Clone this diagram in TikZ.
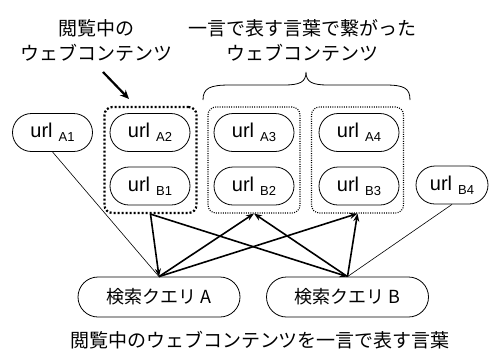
\documentclass[tikz,border=0pt]{standalone}
\usepackage{fontspec}
\setmainfont{Liberation Sans}
\newfontfamily\jp{Noto Sans CJK JP}
\usetikzlibrary{arrows.meta}
\newcommand{\urltext}[1]{{\fontsize{20}{20}\selectfont url}\hspace{6pt}\raisebox{-4pt}{\fontsize{13}{13}\selectfont #1}}
\begin{document}
\begin{tikzpicture}[x=1pt,y=-1pt,
  urlnode/.style={draw, rounded corners=19pt, minimum width=80pt, minimum height=38pt, inner sep=0pt, line width=0.8pt},
  qnode/.style={draw, rounded corners=20pt, minimum width=162pt, minimum height=40pt, inner sep=0pt, line width=0.8pt, font=\jp\fontsize{18}{18}\selectfont},
  groupbox/.style={draw, rounded corners=8pt, minimum width=92pt, minimum height=106pt, inner sep=0pt, line width=1.1pt, dash pattern=on 1pt off 1.3pt},
  selbox/.style={groupbox, line width=2.2pt, dash pattern=on 2pt off 2pt},
  title/.style={align=center, font=\jp\fontsize{19}{25}\selectfont, inner sep=0pt},
  thinline/.style={line width=0.6pt},
  thickarrow/.style={line width=1.6pt, -{Stealth[length=8pt,width=6pt]}}
]
\useasboundingbox (0,0) rectangle (490,354);

% titles
\node[title] (t1) at (96,40) {閲覧中の\\ウェブコンテンツ};
\node[title] (t2) at (302,40) {一言で表す言葉で繋がった\\ウェブコンテンツ};
\coordinate (arrS) at (103,72);
\coordinate (arrE) at (129,99);
\draw[line width=2.2pt, -{Stealth[length=9pt,width=8pt]}] (arrS) -- (arrE);

% brace
\draw[line width=0.8pt] (203,100) .. controls (203,88) and (210,85) .. (230,85) -- (284,85)
  .. controls (300,85) and (306,82) .. (306,72)
  .. controls (306,82) and (312,85) .. (328,85) -- (385,85)
  .. controls (404,85) and (410,88) .. (410,100);

% group boxes
\node[selbox] (g1) at (150.5,160) {};
\node[groupbox] (g2) at (254,160) {};
\node[groupbox] (g3) at (357.5,160) {};

% url nodes
\node[urlnode] (a1) at (52.5,132.5) {\urltext{A1}};
\node[urlnode] (a2) at (150,132.5) {\urltext{A2}};
\node[urlnode] (b1) at (150,186) {\urltext{B1}};
\node[urlnode] (a3) at (254,132.5) {\urltext{A3}};
\node[urlnode] (b2) at (254,186) {\urltext{B2}};
\node[urlnode] (a4) at (359,132.5) {\urltext{A4}};
\node[urlnode] (b3) at (359,186) {\urltext{B3}};
\node[urlnode, minimum width=72pt] (b4) at (452,185) {\urltext{B4}};

% queries
\node[qnode] (qa) at (159,297) {検索クエリ A};
\node[qnode] (qb) at (347.5,297) {検索クエリ B};

% connectors
\draw[thinline] (a1.south) -- (qa.north);
\draw[thinline] (b4.south) -- (qb.north);
\draw[thickarrow] (g1.south) -- (qa.north);
\draw[thickarrow] (g1.south) -- (qb.north);
\draw[thickarrow] (qa.north) -- (g2.south);
\draw[thickarrow] (qa.north) -- (g3.south);
\draw[thickarrow] (qb.north) -- (g2.south);
\draw[thickarrow] (qb.north) -- (g3.south);

% bottom caption
\node[title] (cap) at (260,340) {閲覧中のウェブコンテンツを一言で表す言葉};
\end{tikzpicture}
\end{document}
